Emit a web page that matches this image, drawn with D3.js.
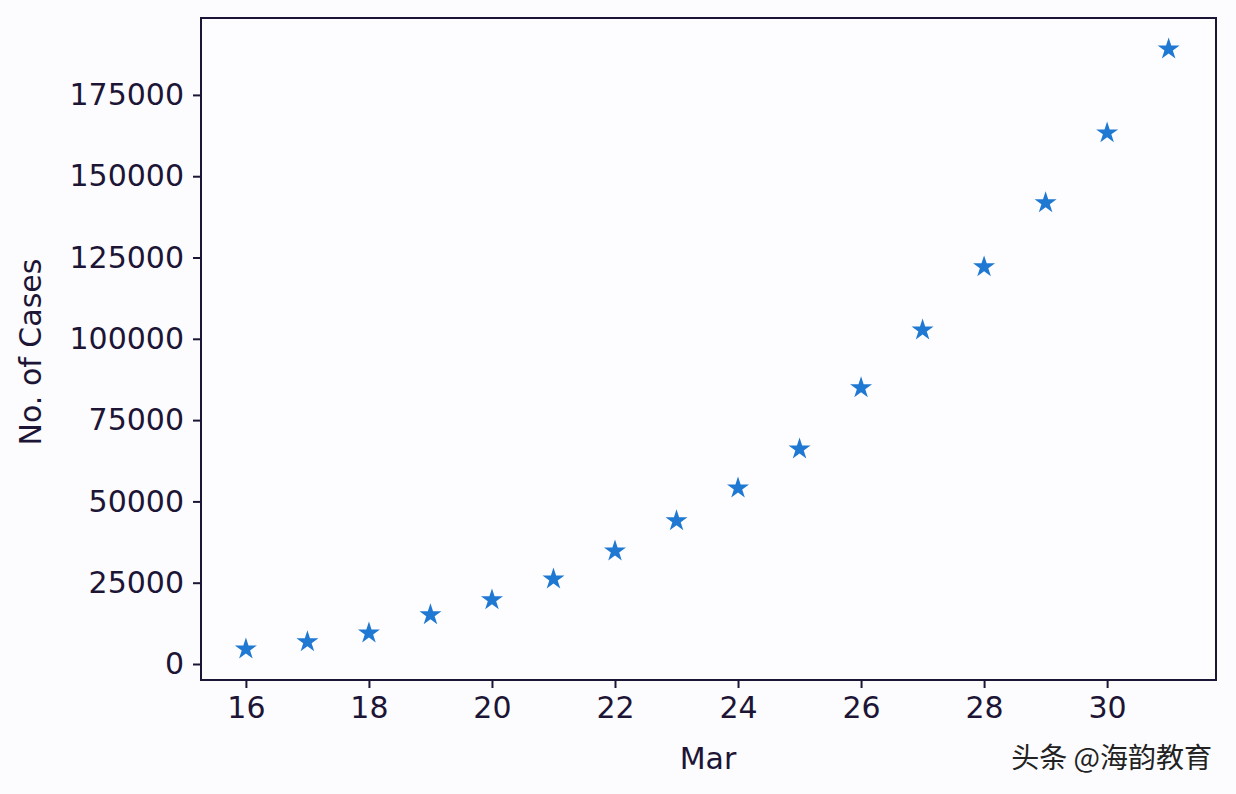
<!DOCTYPE html>
<html><head><meta charset="utf-8">
<script src="https://cdn.jsdelivr.net/npm/d3@7"></script>
<style>body{margin:0;background:#fcfcfe;}text{font-family:"DejaVu Sans";}</style>
</head><body>
<svg id="c" width="1236" height="794"></svg>
<script>
const days = [16,17,18,19,20,21,22,23,24,25,26,27,28,29,30,31];
const cases = [4600,6800,9500,15100,19700,26100,34700,44000,54100,66100,84900,102700,122100,141800,163300,189100];
const xTicks = [16,18,20,22,24,26,28,30];
const yTicks = [0,25000,50000,75000,100000,125000,150000,175000];
const ink = "#1c1536";
const svg = d3.select("#c");
const L=201,R=1216,T=18,B=680;
const x = d3.scaleLinear().domain([15.27,31.77]).range([L,R]);
const y = d3.scaleLinear().domain([-4920,198650]).range([B,T]);
svg.append("rect").attr("x",L).attr("y",T).attr("width",R-L).attr("height",B-T).attr("fill","#fdfdff").attr("stroke",ink).attr("stroke-width",2);
const xa = svg.append("g").attr("transform",`translate(0,${B})`).call(d3.axisBottom(x).tickValues(xTicks).tickSize(8).tickPadding(9).tickFormat(d3.format("d")));
const ya = svg.append("g").attr("transform",`translate(${L},0)`).call(d3.axisLeft(y).tickValues(yTicks).tickSize(8).tickPadding(9).tickFormat(d3.format("d")));
[xa,ya].forEach(a=>{a.select(".domain").remove();a.selectAll("line").attr("stroke",ink).attr("stroke-width",2);a.selectAll("text").attr("fill",ink).style("font-size","30px").style("font-family","DejaVu Sans");});
svg.append("text").attr("x",708).attr("y",769).attr("text-anchor","middle").attr("fill",ink).style("font-size","30px").text("Mar");
svg.append("text").attr("transform","translate(41,352) rotate(-90)").attr("text-anchor","middle").attr("fill",ink).style("font-size","30px").text("No. of Cases");
const star = d3.symbol().type(d3.symbolStar).size(150);
svg.append("g").selectAll("path").data(days).join("path").attr("d",star)
 .attr("transform",(d,i)=>`translate(${x(d)},${y(cases[i])})`).attr("fill","#1f78d1");
svg.append("text").attr("x",1212).attr("y",768).attr("text-anchor","end").attr("fill","#222").style("font-family","Noto Sans CJK SC").style("font-size","28px").text("头条 @海韵教育");
</script>
</body></html>
